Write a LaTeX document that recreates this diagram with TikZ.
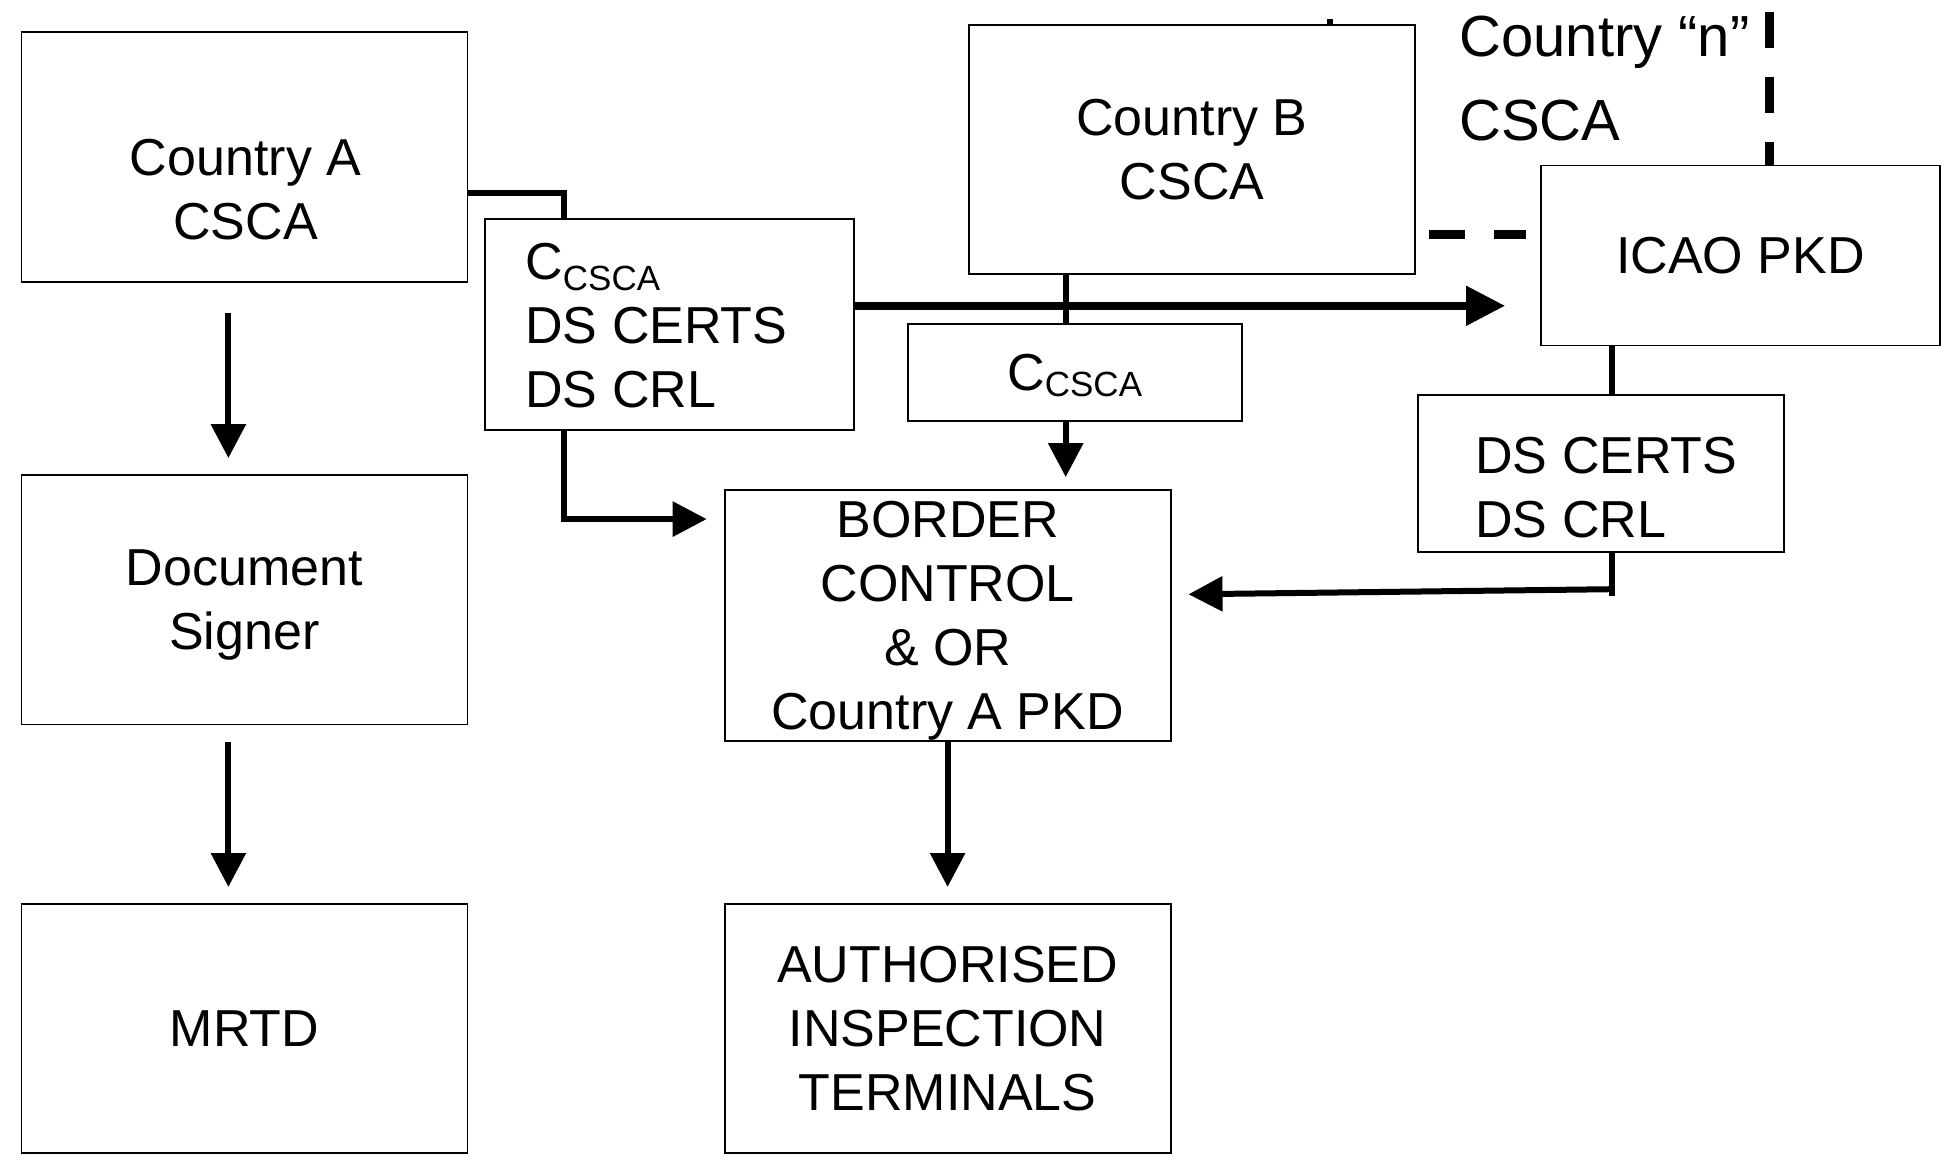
\documentclass[tikz,border=0pt]{standalone}
\usepackage{fontspec}
\setmainfont{Liberation Sans}
\usetikzlibrary{arrows.meta,calc}
\newcommand{\csub}[1]{C\raisebox{-#1}{\fontsize{17.5}{20}\selectfont CSCA}}
\begin{document}
\begin{tikzpicture}[x=0.5pt,y=-0.5pt,font=\fontsize{26}{32}\selectfont]

    \tikzset{box/.style={draw,line width=0.9pt,minimum width=223pt,minimum height=124.7pt,align=center,inner sep=0pt,text depth=0pt},
             txt/.style={inner sep=0pt,align=left},
             link/.style={line width=3pt},
             flow/.style={line width=3pt,-{Triangle[length=17pt,width=17pt]}},
             bigflow/.style={line width=4pt,-{Triangle[length=19.5pt,width=19pt]}},
             dashline/.style={line width=4.5pt,dash pattern=on 18pt off 14.5pt}}
    \useasboundingbox (0,0) rectangle (1955,1160);

    % left column
    \node[box] (ca) at (244.4,157.1) {};
    \node[txt,align=center] (catxt) at (245.6,190) {Country A\\CSCA};
    \node[box] (dsign) at (244.4,599.7) {Document\\Signer};
    \node[box] (mrtd) at (244.4,1028.6) {MRTD};

    % middle
    \node[box,minimum width=184.5pt,minimum height=105.5pt] (pkg) at (669.5,324.8) {};
    \node[txt,anchor=west] (pkgtxt) at (525,326) {\csub{5.5pt}\\DS CERTS\\DS CRL};
    \node[box] (cb) at (1192,149.6) {Country B\\CSCA};
    \node[box,minimum width=167pt,minimum height=48.6pt] (cbcert) at (1074.7,372.8) {\csub{3pt}};
    \node[box,minimum height=125.3pt] (border) at (947.6,615.3) {BORDER\\CONTROL\\\& OR\\Country A PKD};
    \node[box] (ait) at (947.6,1028.6) {AUTHORISED\\INSPECTION\\TERMINALS};

    % right
    \node[box,minimum width=199.5pt,minimum height=90pt] (icao) at (1740.5,255.6) {ICAO PKD};
    \node[box,minimum width=183.3pt,minimum height=78.5pt] (dslist) at (1600.9,473.8) {};
    \node[txt,anchor=west] (dstxt) at (1475,487.5) {DS CERTS\\DS CRL};
    \node[txt,anchor=west,font=\fontsize{29}{42}\selectfont] (cn) at (1459,79) {Country “n”\\CSCA};

    \coordinate (bx) at ($(cbcert.north)+(-9,0)$);
    \coordinate (dx) at ($(dslist.north)+(11,0)$);
    \coordinate (m1) at ($(pkg.east)+(0,-19)$);

    \begin{scope}[flow]
        \draw ($(ca.south)+(-16,30)$) -- ($(dsign.north)+(-16,-16)$);
        \draw ($(dsign.south)+(-16,17)$) -- ($(mrtd.north)+(-16,-16)$);
        \draw ($(pkg.south west)+(80,0)$) |- ($(border.north west)+(-17,30)$);
        \draw (bx |- cbcert.south) -- ($(bx |- border.north)+(0,-12)$);
        \draw (border.south) -- ($(ait.north)+(0,-16)$);
        \draw ($(dx |- dslist.south)+(0,36)$) -- ($(border.east)+(17,-21)$);
    \end{scope}
    \draw[bigflow] (m1) -- ($(m1 -| icao.west)+(-35,0)$);

    \draw[link] ($(ca.east)+(0,36)$) -| ($(pkg.north west)+(80,0)$);
    \draw[link] (bx |- cb.south) -- (bx);
    \draw[link] (dx |- icao.south) -- (dx);
    \draw[link] (dx |- dslist.south) -- ++(0,43);
    \draw[link] ($(cb.north)+(138,0)$) -- ++(0,-5);

    \draw[dashline] ($(cb.east)+(13,85)$) -- ($(icao.west)+(-14,-21)$);
    \draw[dashline] ($(icao.north)+(29,-153)$) -- ($(icao.north)+(29,0)$);
\end{tikzpicture}
\end{document}
